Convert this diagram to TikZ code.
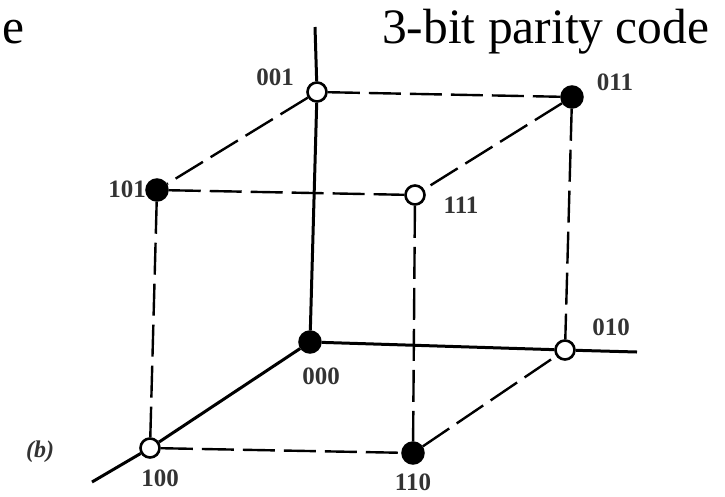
\documentclass[tikz,border=0pt]{standalone}
\usepackage{fontspec}
\setmainfont{Liberation Serif}
\usetikzlibrary{positioning}

\begin{document}
\begin{tikzpicture}[x=1pt, y=-1pt,
  vfull/.style={circle, draw, fill=black, line width=1.5pt, minimum size=22pt, inner sep=0pt},
  vopen/.style={circle, draw, fill=white, line width=2.6pt, minimum size=19pt, inner sep=0pt},
  axis/.style={line width=3pt},
  edge/.style={line width=2.4pt, dash pattern=on 32pt off 9pt},
  lbl/.style={font=\fontsize{25}{25}\selectfont\bfseries, text=black!80, inner sep=0pt}]
  \useasboundingbox (0,0) rectangle (725,496);
  % cube corners
  \node[vfull] (v000) at (310,342) {};
  \node[vopen] (v001) at (317,92) {};
  \node[vopen] (v010) at (565,350) {};
  \node[vfull] (v011) at (572,97) {};
  \node[vopen] (v100) at (150,448) {};
  \node[vfull] (v101) at (157,190) {};
  \node[vfull] (v110) at (413,453) {};
  \node[vopen] (v111) at (415,195) {};
  \coordinate (ztop) at (315,27);
  \coordinate (xend) at (637,352);
  \coordinate (yend) at (92,482);
  % axes
  \draw[axis] (v000) -- (v001) -- (ztop);
  \draw[axis] (v000) -- (v010) -- (xend);
  \draw[axis] (v000) -- (v100) -- (yend);
  % dashed edges
  \draw[edge] (v001) -- (v011);
  \draw[edge] (v001) -- (v101);
  \draw[edge] (v101) -- (v111);
  \draw[edge] (v011) -- (v111);
  \draw[edge] (v011) -- (v010);
  \draw[edge] (v111) -- (v110);
  \draw[edge] (v101) -- (v100);
  \draw[edge] (v100) -- (v110);
  \draw[edge] (v110) -- (v010);
  % labels
  \node[lbl] (l000) at (321,376) {000};
  \node[lbl] (l001) at (275,77) {001};
  \node[lbl] (l010) at (611,327) {010};
  \node[lbl] (l011) at (615,82) {011};
  \node[lbl] (l100) at (160,478) {100};
  \node[lbl] (l110) at (413,482) {110};
  \node[lbl] (l101) at (127,189) {101};
  \node[lbl] (l111) at (461,205) {111};
  \node[lbl, font=\fontsize{24}{24}\selectfont\bfseries\itshape] (part) at (40,452) {(\textit{b})};
  \node[anchor=base west, inner sep=0pt, font=\fontsize{49.5}{49.5}\selectfont] (title) at (382,43) {3-bit parity code};
  \node[anchor=base east, inner sep=0pt, font=\fontsize{49.5}{49.5}\selectfont] (cut) at (25,43) {e};
\end{tikzpicture}
\end{document}
